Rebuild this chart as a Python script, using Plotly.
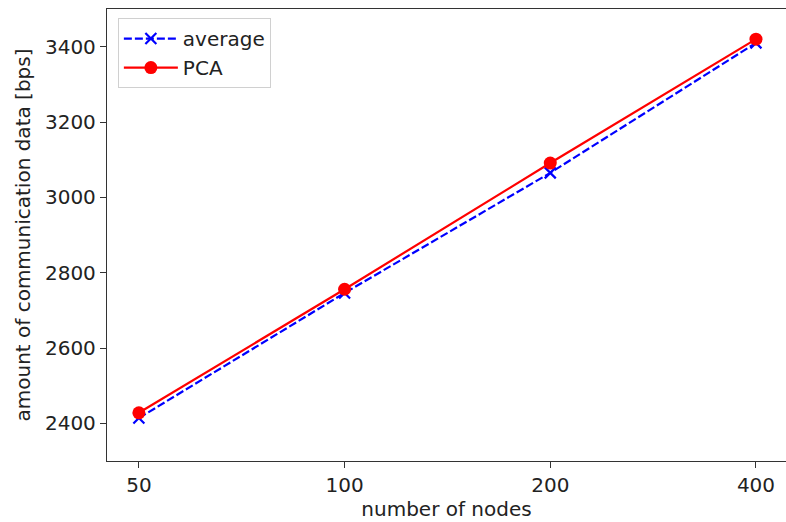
import plotly.graph_objects as go

nodes = ["50", "100", "200", "400"]
average = [2414, 2746, 3065, 3410]
pca = [2428, 2756, 3091, 3420]
y_ticks = [2400, 2600, 2800, 3000, 3200, 3400]

FONT = "DejaVu Sans"
xi = list(range(len(nodes)))

fig = go.Figure()
fig.add_trace(go.Scatter(
    x=xi, y=average, name="average", mode="lines+markers",
    line=dict(color="#0000ff", width=2.2, dash="8px,3px"),
    marker=dict(symbol="x-thin", size=11, line=dict(color="#0000ff", width=2.2)),
))
fig.add_trace(go.Scatter(
    x=xi, y=pca, name="PCA", mode="lines+markers",
    line=dict(color="#ff0000", width=2.2),
    marker=dict(symbol="circle", size=13, color="#ff0000"),
))

fig.update_layout(
    width=786, height=522,
    margin=dict(l=107, r=0, t=9, b=61),
    paper_bgcolor="white", plot_bgcolor="white",
    font=dict(family=FONT, size=20, color="#222"),
    showlegend=True,
    legend=dict(
        x=0.016, y=0.98, xanchor="left", yanchor="top",
        bgcolor="white", bordercolor="#d0d0d0", borderwidth=1,
        font=dict(family=FONT, size=20, color="#222"),
        itemwidth=54, tracegroupgap=0,
    ),
)
fig.update_xaxes(
    range=[-0.155, 3.146], tickmode="array", tickvals=xi, ticktext=nodes,
    showgrid=False, zeroline=False, showline=True, mirror=True, automargin=False,
    linecolor="#333", linewidth=1.3, ticks="outside", ticklen=6, tickcolor="#333",
    title=dict(text="number of nodes", standoff=4, font=dict(size=20)),
)
fig.update_yaxes(
    range=[2300, 3500], tickmode="array", tickvals=y_ticks,
    showgrid=False, zeroline=False, showline=True, mirror=False, automargin=False,
    linecolor="#333", linewidth=1.3, ticks="outside", ticklen=6, tickcolor="#333",
    title=dict(text="amount of communication data [bps]", standoff=8, font=dict(size=20)),
)

fig.write_html("out.html", config={"displayModeBar": False},
               post_script="document.body.style.margin='0px';")
